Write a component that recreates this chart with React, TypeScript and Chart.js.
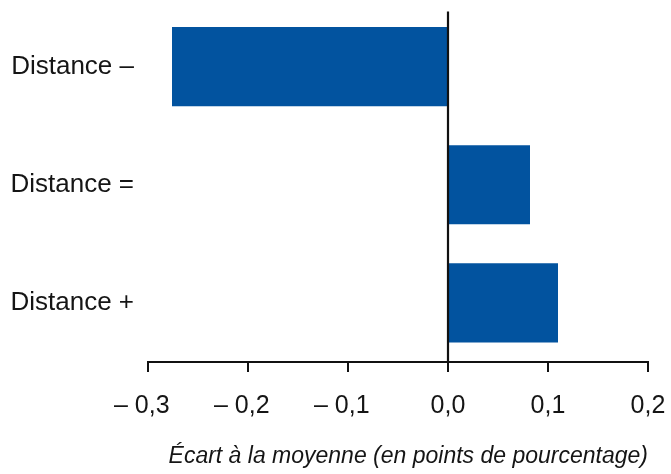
import React, { useEffect, useRef } from "react";
import { Chart, registerables } from "chart.js";

Chart.register(...registerables);

const categories = ["Distance –", "Distance =", "Distance +"];
const values = [-0.276, 0.082, 0.11];
const xTickValues = [-0.3, -0.2, -0.1, 0.0, 0.1, 0.2];
const xTickLabels = ["– 0,3\u2002", "– 0,2\u2002", "– 0,1\u2002", "0,0", "0,1", "0,2"];
const axisTitle = "Écart à la moyenne (en points de pourcentage)";

const BAR_COLOR = "#02539f";
const TEXT_COLOR = "#151515";
const FONT = "'Liberation Sans', Arial, sans-serif";

const zeroLinePlugin = {
  id: "zeroLine",
  afterDatasetsDraw(chart: any) {
    const x = chart.scales.x.getPixelForValue(0);
    const { top, bottom } = chart.chartArea;
    const ctx = chart.ctx;
    ctx.save();
    ctx.strokeStyle = "#111";
    ctx.lineWidth = 2.2;
    ctx.beginPath();
    ctx.moveTo(x, top + 4);
    ctx.lineTo(x, bottom);
    ctx.stroke();
    ctx.restore();
  },
};

export default function App() {
  const ref = useRef<HTMLCanvasElement | null>(null);

  useEffect(() => {
    if (!ref.current) return;
    const chart = new Chart(ref.current, {
      type: "bar",
      data: {
        labels: categories,
        datasets: [
          {
            data: values,
            backgroundColor: BAR_COLOR,
            borderWidth: 0,
            barPercentage: 0.67,
            categoryPercentage: 1,
          },
        ],
      },
      options: {
        indexAxis: "y",
        responsive: false,
        animation: false,
        layout: { padding: { top: 7.5, right: 23, left: 0, bottom: 0 } },
        plugins: {
          legend: { display: false },
          tooltip: { enabled: false },
        },
        scales: {
          x: {
            type: "linear",
            min: -0.3,
            max: 0.2,
            afterBuildTicks(scale: any) {
              scale.ticks = xTickValues.map((v) => ({ value: v }));
            },
            afterFit(scale: any) {
              scale.height = 112;
              scale.paddingLeft = 0;
              scale.paddingRight = 0;
            },
            grid: {
              display: true,
              drawOnChartArea: false,
              drawTicks: true,
              tickLength: 10,
              tickColor: "#111",
              lineWidth: 2,
            },
            border: { display: true, color: "#111", width: 2 },
            ticks: {
              color: TEXT_COLOR,
              font: { family: FONT, size: 25 },
              padding: 19,
              maxRotation: 0,
              autoSkip: false,
              callback(value: any) {
                const i = xTickValues.findIndex((v) => Math.abs(v - Number(value)) < 1e-9);
                return i >= 0 ? xTickLabels[i] : "";
              },
            },
            title: {
              display: true,
              text: axisTitle,
              align: "end",
              color: TEXT_COLOR,
              font: { family: FONT, size: 23, style: "italic" },
              padding: { top: 0, bottom: 4 },
            },
          },
          y: {
            type: "category",
            afterFit(scale: any) {
              scale.width = 148;
              scale.paddingTop = 0;
              scale.paddingBottom = 0;
            },
            grid: { display: false, drawTicks: false },
            border: { display: false },
            ticks: {
              color: TEXT_COLOR,
              font: { family: FONT, size: 26 },
              padding: 14,
            },
          },
        },
      },
      plugins: [zeroLinePlugin],
    } as any);
    return () => chart.destroy();
  }, []);

  return (
    <div style={{ position: "absolute", left: 0, top: 0, width: 671, height: 474, background: "#fff" }}>
      <canvas ref={ref} width={671} height={474} style={{ display: "block" }} />
    </div>
  );
}
